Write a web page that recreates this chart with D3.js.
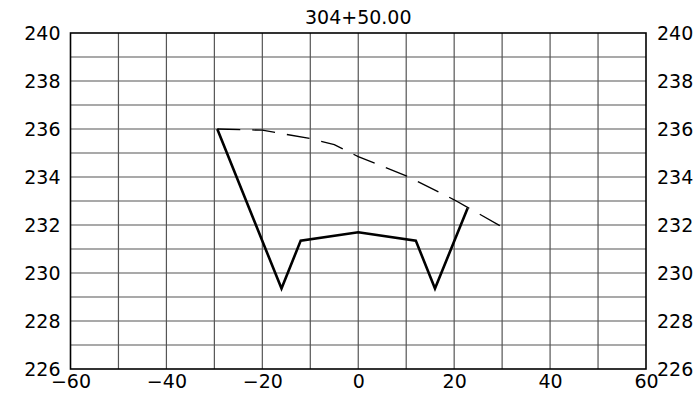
<!DOCTYPE html>
<html>
<head>
<meta charset="utf-8">
<script src="https://cdn.jsdelivr.net/npm/d3@7"></script>
<style>
  body { margin: 0; background: #fff; }
  svg { display: block; }
</style>
</head>
<body>
<svg id="chart"></svg>
<script>
// Cross section data
const title = "304+50.00"
const xTicks = [-60, -40, -20, 0, 20, 40, 60]
const yTicks = [226, 228, 230, 232, 234, 236, 238, 240]
const groundOffset = [-29.4, -20, -10, -5, 0, 10, 20, 30]
const groundElev = [236.0, 235.95, 235.6, 235.35, 234.85, 234.05, 233.05, 231.92]
const designOffset = [-29.4, -16, -12, 0, 12, 16, 22.8]
const designElev = [236.0, 229.35, 231.35, 231.7, 231.35, 229.35, 232.7]

const width = 700
const height = 395
const margin = { top: 33, right: 54, bottom: 26, left: 70.5 }

const svg = d3.select("#chart")
  .attr("width", width)
  .attr("height", height)

const x = d3.scaleLinear()
  .domain([-60, 60])
  .range([margin.left, width - margin.right])

const y = d3.scaleLinear()
  .domain([226, 240])
  .range([height - margin.bottom, margin.top])

const font = "DejaVu Sans"

// Grid
const grid = svg.append("g")
  .attr("stroke", "#555")
  .attr("stroke-width", 1.2)

grid.selectAll(".v")
  .data(d3.range(-50, 60, 10))
  .join("line")
  .attr("x1", d => x(d)).attr("x2", d => x(d))
  .attr("y1", y(226)).attr("y2", y(240))

grid.selectAll(".h")
  .data(d3.range(227, 240, 1))
  .join("line")
  .attr("x1", x(-60)).attr("x2", x(60))
  .attr("y1", d => y(d)).attr("y2", d => y(d))

// Border
svg.append("rect")
  .attr("x", x(-60)).attr("y", y(240))
  .attr("width", x(60) - x(-60))
  .attr("height", y(226) - y(240))
  .attr("fill", "none")
  .attr("stroke", "#000")
  .attr("stroke-width", 1.6)

// Axes labels
const yLeft = d3.axisLeft(y).tickValues(yTicks).tickSize(0).tickPadding(10)
const yRight = d3.axisRight(y).tickValues(yTicks).tickSize(0).tickPadding(11)
const xBottom = d3.axisBottom(x).tickValues(xTicks).tickSize(0).tickPadding(6)
  .tickFormat(d => d < 0 ? "\u2212" + Math.abs(d) : d)

const styleAxis = g => {
  g.select(".domain").remove()
  g.selectAll(".tick text")
    .attr("font-family", font)
    .attr("font-size", 19)
    .attr("fill", "#000")
}

svg.append("g")
  .attr("transform", `translate(${x(-60)},0)`)
  .call(yLeft).call(styleAxis)

svg.append("g")
  .attr("transform", `translate(${x(60)},0)`)
  .call(yRight).call(styleAxis)

svg.append("g")
  .attr("transform", `translate(0,${y(226)})`)
  .call(xBottom).call(styleAxis)

// Title
svg.append("text")
  .attr("x", x(0))
  .attr("y", 24)
  .attr("text-anchor", "middle")
  .attr("font-family", font)
  .attr("font-size", 19)
  .text(title)

const line = d3.line()
  .x(d => x(d[0]))
  .y(d => y(d[1]))

// Existing ground (dashed)
svg.append("path")
  .datum(d3.zip(groundOffset, groundElev))
  .attr("d", line)
  .attr("fill", "none")
  .attr("stroke", "#000")
  .attr("stroke-width", 1.3)
  .attr("stroke-dasharray", "23,12")

// Design section
svg.append("path")
  .datum(d3.zip(designOffset, designElev))
  .attr("d", line)
  .attr("fill", "none")
  .attr("stroke", "#000")
  .attr("stroke-width", 2.6)
  .attr("stroke-linejoin", "miter")
</script>
</body>
</html>
